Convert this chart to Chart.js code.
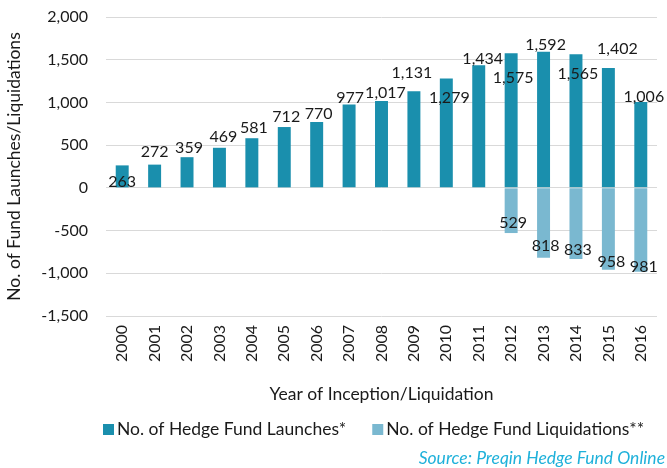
<!DOCTYPE html>
<html>
<head>
<meta charset="utf-8">
<script src="https://cdn.jsdelivr.net/npm/chart.js@4/dist/chart.umd.min.js"></script>
<style>
  html, body { margin: 0; padding: 0; background: #fff; }
  #wrap { width: 667px; height: 468px; position: relative; }
</style>
</head>
<body>
<div id="wrap"><canvas id="chart"></canvas></div>
<script>
const years = ['2000', '2001', '2002', '2003', '2004', '2005', '2006', '2007', '2008',
  '2009', '2010', '2011', '2012', '2013', '2014', '2015', '2016']
const launches = [263, 272, 359, 469, 581, 712, 770, 977, 1017, 1131, 1279, 1434, 1575, 1592, 1565, 1402, 1006]
const liquidations = [null, null, null, null, null, null, null, null, null, null, null, null, -529, -818, -833, -958, -981]
const yTicks = [-1500, -1000, -500, 0, 500, 1000, 1500, 2000]

// label nudges (px) relative to the bar end, as placed in the original
const launchLabelDy = [16, -13, -9, -11, -10, -10, -8, -7, -8, -18, 19, -7, 25, -7, 20, -19, -5]
const launchLabelDx = [0, 0, 2, 4, 2, 2, 2, 1, 4, -2, 3, 4, 2, 2, 2, 9, 3]
const liqLabelDy = [0, 0, 0, 0, 0, 0, 0, 0, 0, 0, 0, 0, -10, -12, -9, -8, -5]
const liqLabelDx = [0, 0, 0, 0, 0, 0, 0, 0, 0, 0, 0, 0, 2, 2, 2, 3, 3]

const FONT = 'Lato, "Open Sans", sans-serif'
const fmt = (v) => Math.abs(v).toLocaleString('en-US')

const barLabels = {
  id: 'barLabels',
  afterDatasetsDraw: (chart) => {
    const ctx = chart.ctx
    ctx.save()
    ctx.font = '16px ' + FONT
    ctx.fillStyle = '#1a1a1a'
    ctx.textAlign = 'center'
    ctx.textBaseline = 'middle'
    chart.data.datasets.forEach((ds, di) => {
      const meta = chart.getDatasetMeta(di)
      const dy = di === 0 ? launchLabelDy : liqLabelDy
      const dx = di === 0 ? launchLabelDx : liqLabelDx
      meta.data.forEach((bar, i) => {
        const v = ds.data[i]
        if (v === null) return
        ctx.fillText(fmt(v), bar.x + dx[i], bar.y + dy[i])
      })
    })
    ctx.restore()
  }
}

const extras = {
  id: 'extras',
  afterDraw: (chart) => {
    const ctx = chart.ctx
    const area = chart.chartArea
    ctx.save()
    // x axis title
    ctx.font = '17.5px ' + FONT
    ctx.fillStyle = '#1a1a1a'
    ctx.textAlign = 'center'
    ctx.textBaseline = 'middle'
    ctx.fillText('Year of Inception/Liquidation', (area.left + area.right) / 2, 394)

    // legend
    ctx.textAlign = 'left'
    let x = 103
    const y = 429
    chart.data.datasets.forEach((ds) => {
      ctx.fillStyle = ds.backgroundColor
      ctx.fillRect(x, y - 5, 11, 11)
      ctx.fillStyle = '#1a1a1a'
      ctx.fillText(ds.label, x + 14, y)
      x += 14 + ctx.measureText(ds.label).width + 26
    })

    // source
    ctx.font = 'italic 17.5px ' + FONT
    ctx.fillStyle = '#1fb1da'
    ctx.textAlign = 'right'
    ctx.fillText('Source: Preqin Hedge Fund Online', 665, 458)
    ctx.restore()
  }
}

new Chart(document.getElementById('chart'), {
  type: 'bar',
  data: {
    labels: years,
    datasets: [
      {
        label: 'No. of Hedge Fund Launches*',
        data: launches,
        backgroundColor: '#1a8fad',
        barPercentage: 0.5,
        categoryPercentage: 0.8
      },
      {
        label: 'No. of Hedge Fund Liquidations**',
        data: liquidations,
        backgroundColor: '#7ab8d0',
        barPercentage: 0.5,
        categoryPercentage: 0.8
      }
    ]
  },
  options: {
    responsive: true,
    maintainAspectRatio: false,
    animation: false,
    layout: { padding: { top: 17, right: 10, left: 0, bottom: 0 } },
    plugins: {
      legend: { display: false },
      tooltip: { enabled: false }
    },
    scales: {
      x: {
        stacked: true,
        grid: { display: false, drawTicks: false },
        border: { display: false },
        ticks: {
          color: '#1a1a1a',
          font: { family: FONT, size: 16 },
          minRotation: 90,
          maxRotation: 90,
          autoSkip: false,
          padding: 9
        },
        afterFit: (scale) => {
          scale.height = 152
          scale.paddingLeft = 0
          scale.paddingRight = 0
        }
      },
      y: {
        stacked: true,
        min: -1500,
        max: 2000,
        afterBuildTicks: (scale) => { scale.ticks = yTicks.map(v => ({ value: v })) },
        grid: { color: '#d9d9d9', lineWidth: 1, drawTicks: false },
        border: { display: false },
        ticks: {
          color: '#1a1a1a',
          font: { family: FONT, size: 16 },
          padding: 18,
          callback: (v) => v.toLocaleString('en-US')
        },
        title: {
          display: true,
          text: 'No. of Fund Launches/Liquidations',
          color: '#1a1a1a',
          font: { family: FONT, size: 17.5 },
          padding: { top: 4, bottom: 0 }
        },
        afterFit: (scale) => {
          scale.width = 106
          scale.paddingTop = 0
          scale.paddingBottom = 0
        }
      }
    }
  },
  plugins: [barLabels, extras]
})
</script>
</body>
</html>
